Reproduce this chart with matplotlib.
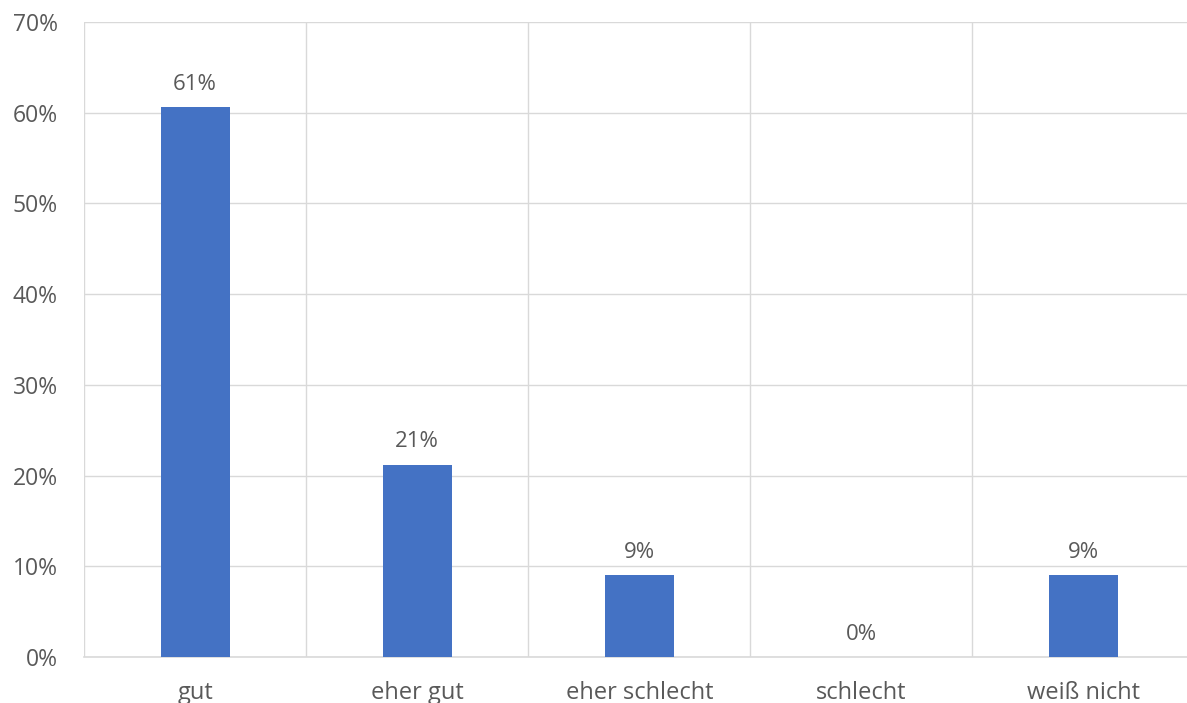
import matplotlib.pyplot as plt
import numpy as np

categories = ["gut", "eher gut", "eher schlecht", "schlecht", "weiß nicht"]
values = [60.6, 21.2, 9.0, 0.0, 9.0]
labels = ["61%", "21%", "9%", "0%", "9%"]

plt.rcParams['font.family'] = ['Open Sans', 'DejaVu Sans']
text_col = '#595959'
grid_col = '#D9D9D9'

fig = plt.figure(figsize=(11.87, 7.03), dpi=100)
ax = fig.add_axes([0.0708, 0.0654, 0.9355, 0.9033])

x = np.arange(len(categories))
bars = ax.bar(x, values, width=0.31, color='#4472C4', zorder=3)

for xi, v, lab in zip(x, values, labels):
    ax.annotate(lab, (xi, v), xytext=(0, 9), textcoords='offset points',
                ha='center', va='bottom', fontsize=16, color=text_col)

ax.set_xlim(-0.5, 4.5)
ax.set_ylim(0, 70)
ax.set_yticks(range(0, 71, 10))
ax.set_yticklabels([f"{t}%" for t in range(0, 71, 10)])
ax.set_xticks(x)
ax.set_xticklabels(categories)
ax.set_xticks(np.arange(-0.5, 5, 1), minor=True)

ax.grid(axis='y', color=grid_col, lw=1, zorder=0)
ax.grid(axis='x', which='minor', color=grid_col, lw=1, zorder=0)
ax.grid(axis='x', which='major', visible=False)

for s in ['top', 'right', 'left']:
    ax.spines[s].set_visible(False)
ax.spines['bottom'].set_color(grid_col)
ax.spines['bottom'].set_linewidth(1.2)

ax.tick_params(axis='both', which='both', length=0, colors=text_col)
ax.tick_params(axis='y', pad=19, labelsize=16.5)
ax.tick_params(axis='x', pad=17.5, labelsize=17)

fig.savefig('out.png', dpi=100)
